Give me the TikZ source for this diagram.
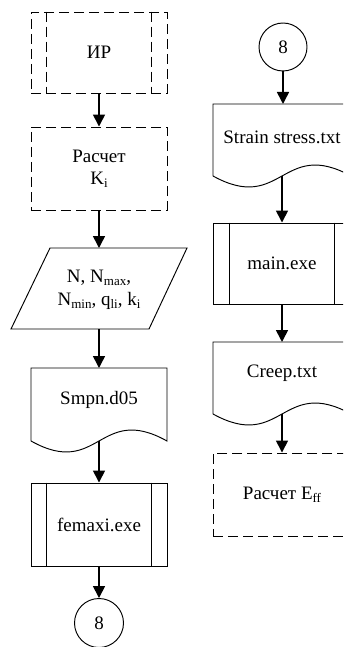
\documentclass[tikz,border=0pt]{standalone}
\usepackage{fontspec}
\setmainfont{Liberation Serif}
\usetikzlibrary{arrows.meta}
\newcommand{\sbs}[1]{\raisebox{-0.35ex}{\fontsize{13}{13}\selectfont #1}}
\tikzset{
  box/.style={draw, line width=0.95pt, rectangle, minimum width=#1, minimum height=82pt, inner sep=0pt, align=center},
  box/.default=136pt,
  dashbox/.style={box=#1, dash pattern=on 10pt off 5pt},
  dashbox/.default=136pt,
  shp/.style={draw, line width=0.95pt},
  lbl/.style={inner sep=0pt, align=center},
  conn/.style={line width=1.6pt, -{Triangle[length=12pt,width=12pt]}},
  term/.style={draw, circle, line width=0.95pt, minimum size=49pt, inner sep=0pt}
}
\begin{document}
\begin{tikzpicture}[x=1pt,y=-1pt,font=\fontsize{19}{22}\selectfont]
\useasboundingbox (0,0) rectangle (343,647);
\clip (0,0) rectangle (343,647);
% ---- left column ----
\node[dashbox, minimum height=81pt] (ir) at (99,52.5) {ИР};
\draw[shp, dash pattern=on 10pt off 5pt] ([xshift=16pt]ir.north west) -- ([xshift=16pt]ir.south west);
\draw[shp, dash pattern=on 10pt off 5pt] ([xshift=-16pt]ir.north east) -- ([xshift=-16pt]ir.south east);
\node[dashbox, minimum height=83pt] (rk) at (99,168.5) {Расчет\\[0pt]K\sbs{i}};
% parallelogram
\coordinate (partop) at (99,248);
\coordinate (parbot) at (99,329);
\draw[shp] (50,248) -- (187,248) -- (149,329) -- (11,329) -- cycle;
\node[lbl] (par) at (99,290) {N, N\sbs{max},\\[1pt]N\sbs{min}, q\sbs{li}, k\sbs{i}};
% document Smpn.d05
\coordinate (smpntop) at (99,368);
\coordinate (smpnbot) at (99,441);
\draw[shp] (31,441) -- (31,368) -- (167,368) -- (167,441)
   .. controls (99,403) and (99,479) .. (31,441);
\node[lbl] (smpn) at (99,400) {Smpn.d05};
\node[box, minimum height=83pt] (fem) at (99,524.5) {femaxi.exe};
\draw[shp] ([xshift=16pt]fem.north west) -- ([xshift=16pt]fem.south west);
\draw[shp] ([xshift=-16pt]fem.north east) -- ([xshift=-16pt]fem.south east);
\node[term] (c1) at (99,623) {8};
% ---- right column ----
\node[term, minimum size=48pt] (c2) at (283,47) {8};
\coordinate (d1top) at (282,104);
\coordinate (d1bot) at (282,176);
\draw[shp] (213,176) -- (213,104) -- (351,104) -- (351,176)
   .. controls (282,138) and (282,214) .. (213,176);
\node[lbl] (d1) at (282,137) {Strain stress.txt};
\node[box=138pt, minimum height=81pt] (main) at (282,263.5) {main.exe};
\draw[shp] ([xshift=17pt]main.north west) -- ([xshift=17pt]main.south west);
\draw[shp] ([xshift=-17pt]main.north east) -- ([xshift=-17pt]main.south east);
\coordinate (d2top) at (282,342);
\coordinate (d2bot) at (282,414);
\draw[shp] (213,414) -- (213,342) -- (351,342) -- (351,414)
   .. controls (282,376) and (282,452) .. (213,414);
\node[lbl] (d2) at (282,373) {Creep.txt};
\node[dashbox=138pt, minimum height=83pt] (eff) at (282,494.5) {Расчет E\sbs{ff}};
% ---- connectors ----
\draw[conn] (ir) -- (rk);
\draw[conn] (rk) -- (partop);
\draw[conn] (parbot) -- (smpntop);
\draw[conn] (smpnbot) -- (fem);
\draw[conn] (fem) -- (c1);
\draw[conn] (c2) -- (c2 |- d1top);
\draw[conn] (d1bot) -- (main);
\draw[conn] (main) -- (d2top);
\draw[conn] (d2bot) -- (eff);
\end{tikzpicture}
\end{document}
